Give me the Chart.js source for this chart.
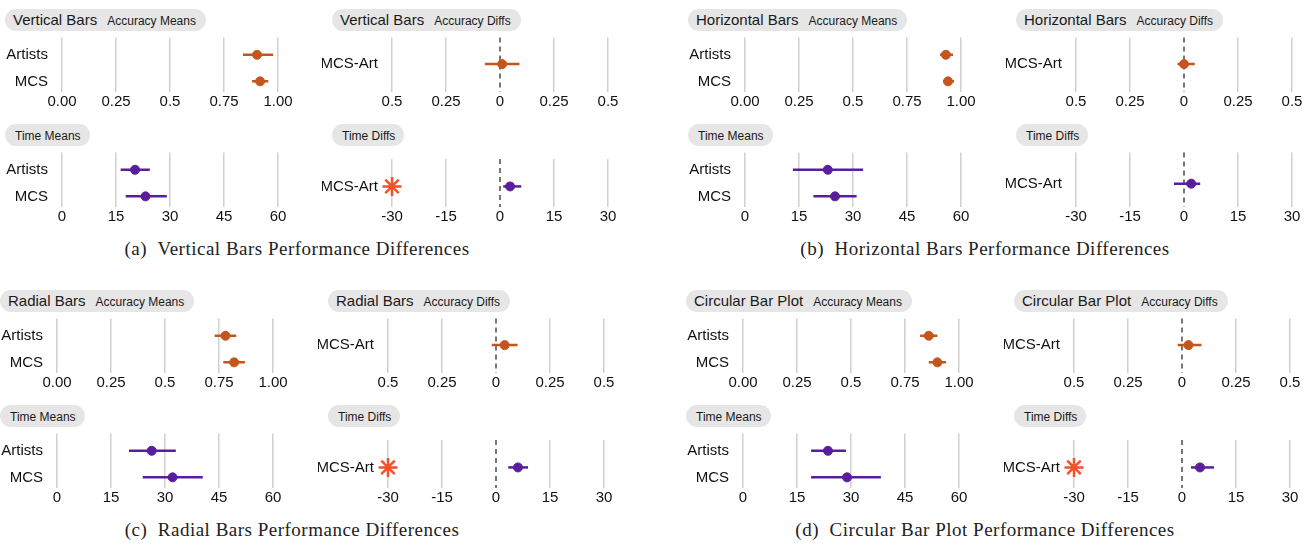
<!DOCTYPE html>
<html>
<head>
<meta charset="utf-8">
<script src="https://cdn.jsdelivr.net/npm/chart.js@4"></script>
<style>
  body { margin: 0; background: #fff; }
  #page { position: relative; width: 1312px; height: 545px; overflow: hidden; font-family: "Liberation Sans", Arial, sans-serif; }
  .box { position: absolute; }
  .pill { position: absolute; height: 22px; line-height: 22px; border-radius: 11px; background: #e6e6e6; padding: 0 10px 0 8px; white-space: nowrap; color: #1a1a1a; }
  .pill .t1 { font-size: 15px; margin-right: 10px; }
  .pill .t2 { font-size: 12px; }
  .pill.small { padding: 0 9px 0 10px; }
  .caption { position: absolute; font-family: "Liberation Serif", "DejaVu Serif", serif; font-size: 19px; letter-spacing: 0.5px; color: #222; white-space: nowrap; transform: translateX(-50%); }
</style>
</head>
<body>
<div id="page"></div>
<script>
// rows are [mean, low, high]
const groupLabels = ["Artists", "MCS"];
const diffLabels = ["MCS-Art"];

const accMeanTicks = [0, 0.25, 0.5, 0.75, 1];
const accMeanTickLabels = ["0.00", "0.25", "0.5", "0.75", "1.00"];
const accDiffTicks = [-0.5, -0.25, 0, 0.25, 0.5];
const accDiffTickLabels = ["0.5", "0.25", "0", "0.25", "0.5"];
const timeMeanTicks = [0, 15, 30, 45, 60];
const timeMeanTickLabels = ["0", "15", "30", "45", "60"];
const timeDiffTicks = [-30, -15, 0, 15, 30];
const timeDiffTickLabels = ["-30", "-15", "0", "15", "30"];

const vertAccMeans = [[0.903, 0.838, 0.977], [0.917, 0.88, 0.955]];
const vertAccDiff = [[0.01, -0.07, 0.09]];
const vertTimeMeans = [[20.3, 16.3, 24.4], [23.2, 17.7, 29.1]];
const vertTimeDiff = [[2.8, 0.9, 5.9]];
const vertTimeSig = [-30];

const horizAccMeans = [[0.93, 0.903, 0.963], [0.94, 0.917, 0.968]];
const horizAccDiff = [[0.0, -0.03, 0.05]];
const horizTimeMeans = [[23.0, 13.3, 32.8], [25.0, 19.0, 31.0]];
const horizTimeDiff = [[2.0, -2.8, 4.5]];
const horizTimeSig = [];

const radialAccMeans = [[0.78, 0.73, 0.83], [0.82, 0.77, 0.87]];
const radialAccDiff = [[0.04, -0.02, 0.10]];
const radialTimeMeans = [[26.3, 20.0, 33.0], [32.1, 23.8, 40.5]];
const radialTimeDiff = [[6.1, 3.4, 8.9]];
const radialTimeSig = [-30];

const circAccMeans = [[0.86, 0.82, 0.90], [0.90, 0.86, 0.94]];
const circAccDiff = [[0.03, -0.02, 0.09]];
const circTimeMeans = [[23.6, 18.9, 28.6], [28.9, 18.9, 38.3]];
const circTimeDiff = [[5.0, 2.5, 8.9]];
const circTimeSig = [-30];

const panelTitles = ["Vertical Bars", "Horizontal Bars", "Radial Bars", "Circular Bar Plot"];
const panelCaptions = [
  ["(a)", "Vertical Bars Performance Differences"],
  ["(b)", "Horizontal Bars Performance Differences"],
  ["(c)", "Radial Bars Performance Differences"],
  ["(d)", "Circular Bar Plot Performance Differences"],
];

const ACC_COLOR = "#c4561d";
const TIME_COLOR = "#5a1e9c";
const SIG_COLOR = "#f0522a";

const panels = [
  { accMeans: vertAccMeans, accDiff: vertAccDiff, timeMeans: vertTimeMeans, timeDiff: vertTimeDiff, sig: vertTimeSig,
    meansLeft: 62, diffsLeft: 392, top: 36, capX: 297, capY: 238 },
  { accMeans: horizAccMeans, accDiff: horizAccDiff, timeMeans: horizTimeMeans, timeDiff: horizTimeDiff, sig: horizTimeSig,
    meansLeft: 745, diffsLeft: 1076, top: 36, capX: 985, capY: 238 },
  { accMeans: radialAccMeans, accDiff: radialAccDiff, timeMeans: radialTimeMeans, timeDiff: radialTimeDiff, sig: radialTimeSig,
    meansLeft: 57, diffsLeft: 388, top: 317, capX: 292, capY: 519 },
  { accMeans: circAccMeans, accDiff: circAccDiff, timeMeans: circTimeMeans, timeDiff: circTimeDiff, sig: circTimeSig,
    meansLeft: 743, diffsLeft: 1074, top: 317, capX: 985, capY: 519 },
];

const page = document.getElementById("page");

// dashed zero reference line for the diff plots
const zeroLinePlugin = {
  id: "zeroLine",
  beforeDatasetsDraw(chart, args, opts) {
    if (!opts.show) return;
    const { ctx, chartArea: { top, bottom }, scales: { x } } = chart;
    const xPos = x.getPixelForValue(0);
    ctx.save();
    ctx.strokeStyle = "#4a4a4a";
    ctx.lineWidth = 1.5;
    ctx.setLineDash([5, 4]);
    ctx.beginPath();
    ctx.moveTo(xPos, top);
    ctx.lineTo(xPos, bottom);
    ctx.stroke();
    ctx.restore();
  },
};

function addPill(left, top, title, sub) {
  const p = document.createElement("div");
  p.className = "pill" + (title ? "" : " small");
  p.style.left = left + "px";
  p.style.top = top + "px";
  p.innerHTML = (title ? '<span class="t1">' + title + "</span>" : "") + '<span class="t2">' + sub + "</span>";
  page.appendChild(p);
}

function makeChart(plotLeft, plotTop, rows, rowLabels, ticks, tickLabels, color, isDiff, sig, yRange) {
  const box = document.createElement("div");
  box.className = "box";
  box.style.left = plotLeft - 70 + "px";
  box.style.top = plotTop - 4 + "px";
  box.style.width = 70 + 216 + 26 + "px";
  box.style.height = 4 + 56 + 26 + "px";
  const canvas = document.createElement("canvas");
  box.appendChild(canvas);
  page.appendChild(box);

  const rowVals = rowLabels.map((_, i) => i + 1);

  const datasets = [
    {
      label: "mean",
      data: rows.map((r, i) => ({ x: r[0], y: rowVals[i] })),
      backgroundColor: color,
      borderColor: color,
      pointRadius: 4.5,
      pointHoverRadius: 4.5,
      showLine: false,
    },
  ];
  if (sig && sig.length) {
    datasets.push({
      label: "sig",
      data: sig.map((v) => ({ x: v, y: 1 })),
      pointStyle: "star",
      pointRadius: 9.5,
      borderColor: SIG_COLOR,
      backgroundColor: SIG_COLOR,
      borderWidth: 2.5,
      showLine: false,
      clip: false,
    });
  }
  rows.forEach((r, i) => {
    datasets.push({
      label: "ci",
      data: [{ x: r[1], y: rowVals[i] }, { x: r[2], y: rowVals[i] }],
      borderColor: color,
      borderWidth: 2.5,
      pointRadius: 0,
      showLine: true,
    });
  });

  new Chart(canvas, {
    type: "scatter",
    data: { datasets },
    options: {
      responsive: true,
      maintainAspectRatio: false,
      animation: false,
      events: [],
      layout: { padding: { top: 4, right: 26, bottom: 0, left: 0 } },
      scales: {
        x: {
          type: "linear",
          min: ticks[0],
          max: ticks[ticks.length - 1],
          afterBuildTicks: (s) => { s.ticks = ticks.map((v) => ({ value: v })); },
          afterFit: (s) => { s.height = 26; s.paddingLeft = 0; s.paddingRight = 0; },
          border: { display: false },
          grid: {
            drawTicks: false,
            lineWidth: 1.5,
            color: (c) => (isDiff && c.tick && c.tick.value === 0 ? "rgba(0,0,0,0)" : "#d0d0d0"),
          },
          ticks: {
            padding: 1,
            color: "#111",
            font: { family: "Liberation Sans", size: 15 },
            maxRotation: 0,
            autoSkip: false,
            callback: (v, i) => tickLabels[i],
          },
        },
        y: {
          type: "linear",
          reverse: true,
          min: yRange[0],
          max: yRange[1],
          afterBuildTicks: (s) => { s.ticks = rowVals.map((v) => ({ value: v })); },
          afterFit: (s) => { s.width = 70; s.paddingTop = 0; s.paddingBottom = 0; },
          border: { display: false },
          grid: { display: false, drawTicks: false },
          ticks: {
            padding: 14,
            color: "#111",
            font: { family: "Liberation Sans", size: 15 },
            autoSkip: false,
            callback: (v) => rowLabels[v - 1],
          },
        },
      },
      plugins: {
        legend: { display: false },
        tooltip: { enabled: false },
        zeroLine: { show: isDiff },
      },
    },
    plugins: [zeroLinePlugin],
  });
}

const meansRange = [0.35, 2.4];
const accDiffRange = [0, 2.05];
const timeDiffRange = [0, 1.75];

panels.forEach((p, k) => {
  const timeTop = p.top + 115;
  makeChart(p.meansLeft, p.top, p.accMeans, groupLabels, accMeanTicks, accMeanTickLabels, ACC_COLOR, false, null, meansRange);
  makeChart(p.diffsLeft, p.top, p.accDiff, diffLabels, accDiffTicks, accDiffTickLabels, ACC_COLOR, true, null, accDiffRange);
  makeChart(p.meansLeft, timeTop, p.timeMeans, groupLabels, timeMeanTicks, timeMeanTickLabels, TIME_COLOR, false, null, meansRange);
  makeChart(p.diffsLeft, timeTop, p.timeDiff, diffLabels, timeDiffTicks, timeDiffTickLabels, TIME_COLOR, true, p.sig, timeDiffRange);

  addPill(p.meansLeft - 57, p.top - 27, panelTitles[k], "Accuracy Means");
  addPill(p.diffsLeft - 60, p.top - 27, panelTitles[k], "Accuracy Diffs");
  addPill(p.meansLeft - 57, timeTop - 27, "", "Time Means");
  addPill(p.diffsLeft - 60, timeTop - 27, "", "Time Diffs");

  const cap = document.createElement("div");
  cap.className = "caption";
  cap.style.left = p.capX + "px";
  cap.style.top = p.capY + "px";
  cap.innerHTML = panelCaptions[k][0] + "&nbsp;&nbsp;" + panelCaptions[k][1];
  page.appendChild(cap);
});
</script>
</body>
</html>
